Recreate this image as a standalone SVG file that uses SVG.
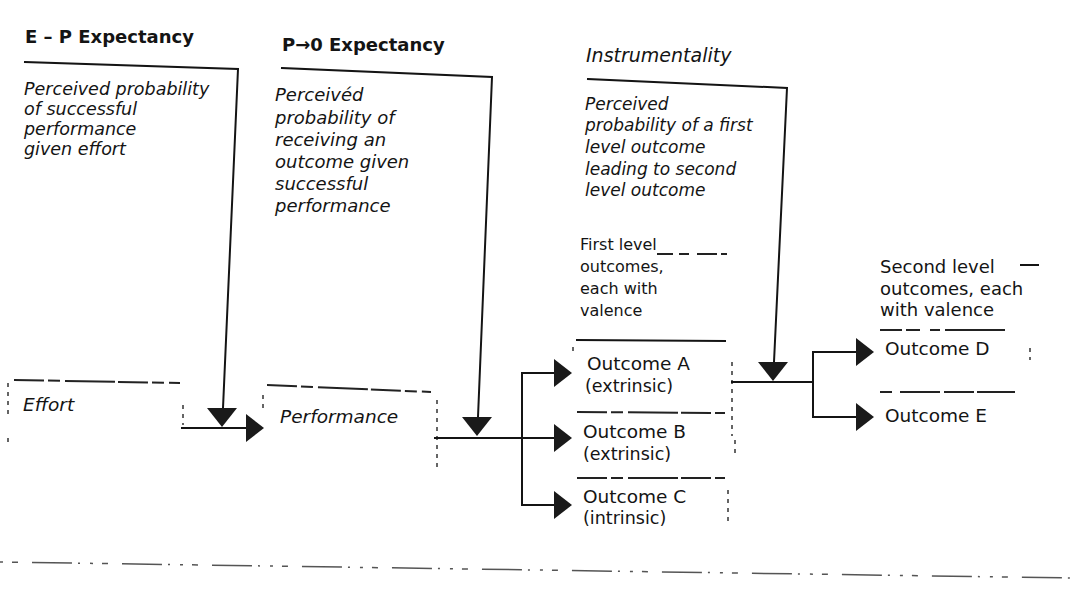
<svg xmlns="http://www.w3.org/2000/svg" xmlns:xlink="http://www.w3.org/1999/xlink" width="1071" height="602" viewBox="0 0 1071 602">
<style>
.t{font-family:"DejaVu Sans","Liberation Sans",sans-serif;fill:#141414}
.i{font-style:italic}
.b{font-weight:bold}
.ln{stroke:#141414;stroke-width:2;fill:none;stroke-linecap:square}
.dl{stroke:#222;stroke-width:2;fill:none;stroke-dasharray:30 4 12 5 50 3}
.dt{stroke:#333;stroke-width:1.5;fill:none;stroke-dasharray:4 5}
.ah{fill:#1a1a1a}
.scan{stroke:#555;stroke-width:1.5;fill:none;stroke-dasharray:3 9 6 14 40 6 2 10}
</style>
<defs>
<path id="arrowR" class="ah" d="M0,-14 L18,0 L0,14 Z"/>
<path id="triD" class="ah" d="M-15,0 L15,0 L0,19 Z"/>
</defs>
<rect width="1071" height="602" fill="#ffffff"/>

<g id="ep-expectancy">
<text class="t b" x="25" y="43" font-size="18">E – P Expectancy</text>
<text class="t i" font-size="17.5" x="24"><tspan x="24" y="95">Perceived probability</tspan><tspan x="24" y="115">of successful</tspan><tspan x="24" y="135">performance</tspan><tspan x="24" y="155">given effort</tspan></text>
</g>

<g id="po-expectancy">
<text class="t b" x="282" y="51" font-size="18">P→0 Expectancy</text>
<text class="t i" font-size="18"><tspan x="275" y="101">Perceivéd</tspan><tspan x="275" y="124">probability of</tspan><tspan x="275" y="146">receiving an</tspan><tspan x="275" y="168">outcome given</tspan><tspan x="275" y="190">successful</tspan><tspan x="275" y="212">performance</tspan></text>
</g>

<g id="instrumentality">
<text class="t i" x="586" y="62" font-size="19">Instrumentality</text>
<text class="t i" font-size="17"><tspan x="585" y="110">Perceived</tspan><tspan x="585" y="131">probability of a first</tspan><tspan x="585" y="153">level outcome</tspan><tspan x="585" y="175">leading to second</tspan><tspan x="585" y="196">level outcome</tspan></text>
</g>

<g id="effort">
<path class="dl" d="M14,380 L180,383"/>
<path class="dt" d="M8,383 V414 M8,438 V446"/>
<path class="dt" d="M183,405 V425"/>
<text class="t i" x="23" y="411" font-size="18.5">Effort</text>
</g>

<g id="performance">
<path class="dl" d="M267,385 L431,392"/>
<path class="dt" d="M263,395 V409"/>
<path class="dt" d="M437,400 V468"/>
<text class="t i" x="280" y="423" font-size="18.5">Performance</text>
</g>

<g id="first-level">
<text class="t" font-size="16"><tspan x="580" y="250">First level</tspan><tspan x="580" y="272">outcomes,</tspan><tspan x="580" y="294">each with</tspan><tspan x="580" y="316">valence</tspan></text>
<path class="dl" d="M657,254 L727,254" style="stroke-dasharray:16 6 10 8 20 4"/>
<path class="ln" d="M577,340 L725,341"/>
</g>

<g id="outcome-a">
<path class="dt" d="M573,347 V356"/>
<path class="dt" d="M732,362 V436"/>
<text class="t" font-size="18.5" x="587" y="370">Outcome A</text>
<text class="t" font-size="17.5" x="585" y="392">(extrinsic)</text>
<path class="dl" d="M577,412 L725,413"/>
</g>

<g id="outcome-b">
<path class="dt" d="M735,440 V456"/>
<text class="t" font-size="18.5" x="583" y="438">Outcome B</text>
<text class="t" font-size="17.5" x="583" y="460">(extrinsic)</text>
<path class="dl" d="M577,478 L725,478"/>
</g>

<g id="outcome-c">
<path class="dt" d="M728,490 V522"/>
<text class="t" font-size="18.5" x="583" y="503">Outcome C</text>
<text class="t" font-size="17.5" x="583" y="524">(intrinsic)</text>
</g>

<g id="second-level">
<text class="t" font-size="18"><tspan x="880" y="273">Second level</tspan><tspan x="880" y="295">outcomes, each</tspan><tspan x="880" y="316">with valence</tspan></text>
<path class="ln" d="M1021,265 H1038"/>
<path class="dl" d="M880,330 L1023,330" style="stroke-dasharray:22 4 14 10 10 5 60"/>
</g>

<g id="outcome-d">
<text class="t" font-size="18.5" x="885" y="355">Outcome D</text>
<path class="dt" d="M1030,348 V360"/>
<path class="dl" d="M880,392 L1015,392" style="stroke-dasharray:12 8 40 4 30 3 60"/>
</g>

<g id="outcome-e">
<text class="t" font-size="18.5" x="885" y="422">Outcome E</text>
</g>

<g id="connectors">
<path class="ln" d="M25,62 L238,69 L223,408"/>
<path class="ln" d="M282,68 L492,77 L478,417"/>
<path class="ln" d="M588,79 L787,88 L774,362"/>
<path class="ln" d="M182,428 H248"/>
<path class="ln" d="M435,438 H556"/>
<path class="ln" d="M556,373 H522 V505 H556"/>
<path class="ln" d="M732,382 H813"/>
<path class="ln" d="M858,352 H813 V417 H858"/>
<use xlink:href="#triD" x="222" y="408"/>
<use xlink:href="#triD" x="477" y="417"/>
<use xlink:href="#triD" x="773" y="362"/>
<use xlink:href="#arrowR" x="246" y="428"/>
<use xlink:href="#arrowR" x="554" y="373"/>
<use xlink:href="#arrowR" x="554" y="438"/>
<use xlink:href="#arrowR" x="554" y="505"/>
<use xlink:href="#arrowR" x="856" y="352"/>
<use xlink:href="#arrowR" x="856" y="417"/>
</g>

<path class="scan" d="M0,562 L1071,578"/>
</svg>
